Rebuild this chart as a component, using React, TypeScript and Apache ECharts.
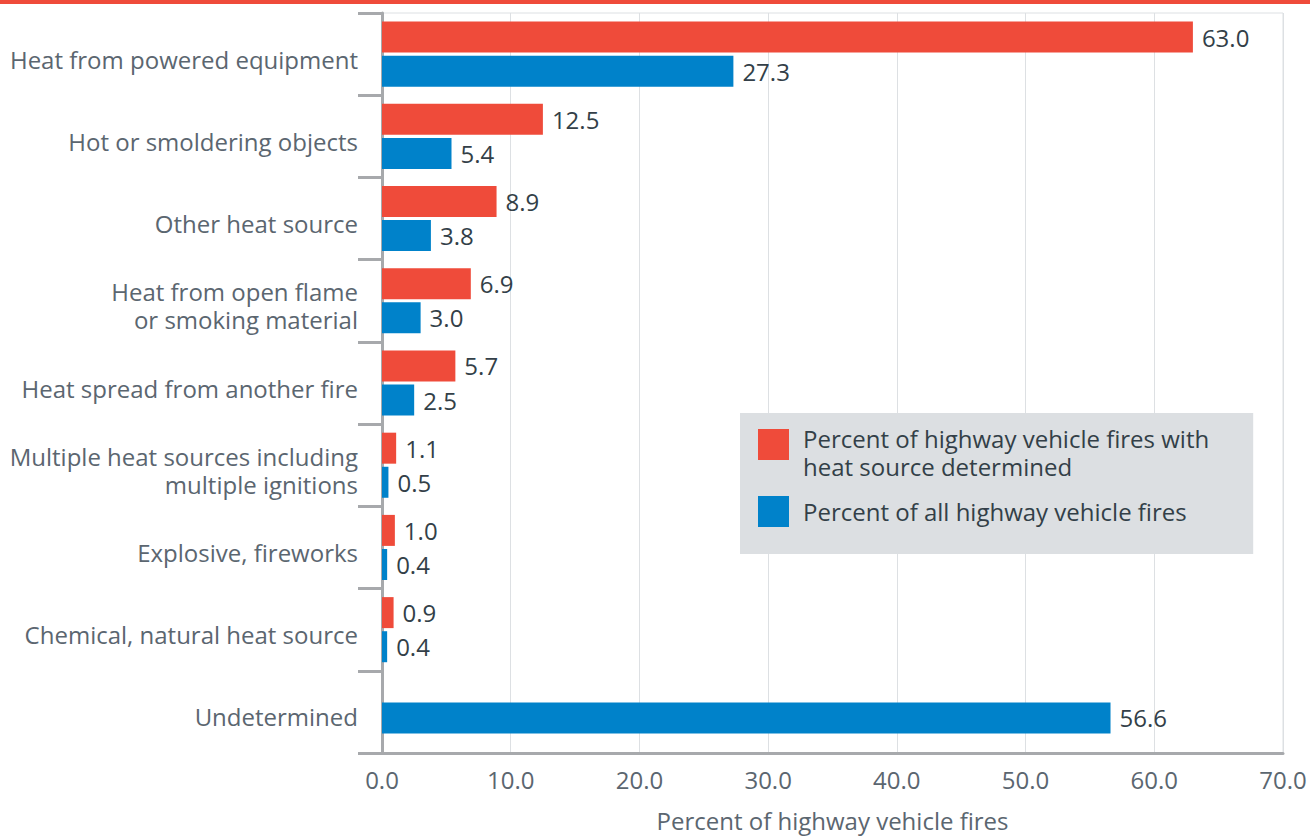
import React, { useEffect, useRef } from "react";
import * as echarts from "echarts";

const categories = [
  "Heat from powered equipment",
  "Hot or smoldering objects",
  "Other heat source",
  "Heat from open flame\nor smoking material",
  "Heat spread from another fire",
  "Multiple heat sources including\nmultiple ignitions",
  "Explosive, fireworks",
  "Chemical, natural heat source",
  "Undetermined",
];

const determinedValues = [63.0, 12.5, 8.9, 6.9, 5.7, 1.1, 1.0, 0.9, null];
const allValues = [27.3, 5.4, 3.8, 3.0, 2.5, 0.5, 0.4, 0.4, null];
const undeterminedValues = [null, null, null, null, null, null, null, null, 56.6];
const padValues = [null, null, null, null, null, null, null, null, 0];

const xTicks = [0, 10, 20, 30, 40, 50, 60, 70];

const seriesNames = [
  "Percent of highway vehicle fires with\nheat source determined",
  "Percent of all highway vehicle fires",
];

const RED = "#ef4b3a";
const BLUE = "#0082ca";
const AXIS = "#a7a9ac";
const LABEL = "#5b6670";
const VALUE = "#333f48";
const FONT = "'Open Sans', sans-serif";
const FS = 24;

const richWrap = (key: string) => (s: string) =>
  s
    .split("\n")
    .map((line) => `{${key}|${line}}`)
    .join("\n");

export default function App() {
  const ref = useRef<HTMLDivElement>(null);

  useEffect(() => {
    document.body.style.margin = "0";
    if (!ref.current) return;
    const chart = echarts.init(ref.current, null, { renderer: "svg" });

    const valueLabel = {
      show: true,
      position: "right",
      distance: 9,
      color: VALUE,
      fontSize: FS,
      fontFamily: FONT,
      formatter: (p: any) => (p.value == null ? "" : Number(p.value).toFixed(1)),
    };

    const legendTok = {
      color: VALUE,
      fontSize: FS,
      fontFamily: FONT,
      lineHeight: 28,
    };

    chart.setOption({
      animation: false,
      backgroundColor: "#ffffff",
      textStyle: { fontFamily: FONT },
      graphic: [
        {
          type: "rect",
          left: 0,
          top: 0,
          shape: { width: 1310, height: 4 },
          style: { fill: RED },
          silent: true,
        },
      ],
      grid: {
        left: 382,
        right: 27,
        top: 13,
        bottom: 73,
        show: true,
        borderColor: "#dde0e3",
        borderWidth: 1,
        containLabel: false,
      },
      legend: {
        data: [{ name: seriesNames[0] }, { name: seriesNames[1] }],
        orient: "vertical",
        left: 740,
        top: 413,
        backgroundColor: "#dcdfe2",
        padding: [-2.5, 44, 27, 18],
        itemGap: 17.5,
        itemWidth: 31,
        itemHeight: 31,
        icon: "rect",
        selectedMode: false,
        formatter: (name: string) =>
          name.indexOf("\n") >= 0 ? richWrap("lg")(name) : richWrap("lg2")(name),
        textStyle: {
          color: VALUE,
          fontSize: FS,
          fontFamily: FONT,
          lineHeight: 28,
          rich: {
            lg: { ...legendTok, padding: [16, 0, 0, 9] },
            lg2: { ...legendTok, padding: [0, 0, 0, 9] },
          },
        },
      },
      xAxis: {
        type: "value",
        min: xTicks[0],
        max: xTicks[xTicks.length - 1],
        interval: 10,
        name: "Percent of highway vehicle fires",
        nameLocation: "middle",
        nameGap: 55,
        nameTextStyle: { color: LABEL, fontSize: FS, fontFamily: FONT },
        axisLine: { show: true, lineStyle: { color: AXIS, width: 3 } },
        axisTick: { show: false },
        axisLabel: {
          color: LABEL,
          fontSize: FS,
          fontFamily: FONT,
          margin: 14,
          formatter: (v: number) => v.toFixed(1),
        },
        splitLine: { show: true, lineStyle: { color: "#dde0e3", width: 1 } },
      },
      yAxis: [
        {
          type: "category",
          data: categories,
          inverse: true,
          boundaryGap: true,
          axisLine: { show: true, lineStyle: { color: AXIS, width: 3 } },
          axisTick: { show: true, length: 24, lineStyle: { color: AXIS, width: 3 } },
          axisLabel: {
            color: LABEL,
            fontSize: FS,
            fontFamily: FONT,
            margin: 24,
            lineHeight: 28,
            align: "right",
            formatter: richWrap("cat"),
            rich: {
              cat: {
                color: LABEL,
                fontSize: FS,
                fontFamily: FONT,
                lineHeight: 28,
                padding: [10, 0, 0, 0],
              },
            },
          },
          splitLine: { show: false },
        },
        {
          type: "category",
          data: categories,
          inverse: true,
          boundaryGap: true,
          show: false,
        },
      ],
      series: [
        {
          name: seriesNames[0],
          type: "bar",
          yAxisIndex: 0,
          data: determinedValues,
          barWidth: 31,
          barGap: "10%",
          itemStyle: { color: RED },
          label: valueLabel,
        },
        {
          name: seriesNames[1],
          type: "bar",
          yAxisIndex: 0,
          data: allValues,
          barWidth: 31,
          barGap: "10%",
          itemStyle: { color: BLUE },
          label: valueLabel,
        },
        {
          name: "pad",
          type: "bar",
          yAxisIndex: 1,
          data: padValues,
          barWidth: 31,
          barGap: "-61%",
          silent: true,
          itemStyle: { color: "rgba(0,0,0,0)" },
        },
        {
          name: seriesNames[1],
          type: "bar",
          yAxisIndex: 1,
          data: undeterminedValues,
          barWidth: 31,
          barGap: "-61%",
          itemStyle: { color: BLUE },
          label: valueLabel,
        },
      ],
    });

    return () => chart.dispose();
  }, []);

  return <div ref={ref} style={{ width: 1310, height: 837 }} />;
}
